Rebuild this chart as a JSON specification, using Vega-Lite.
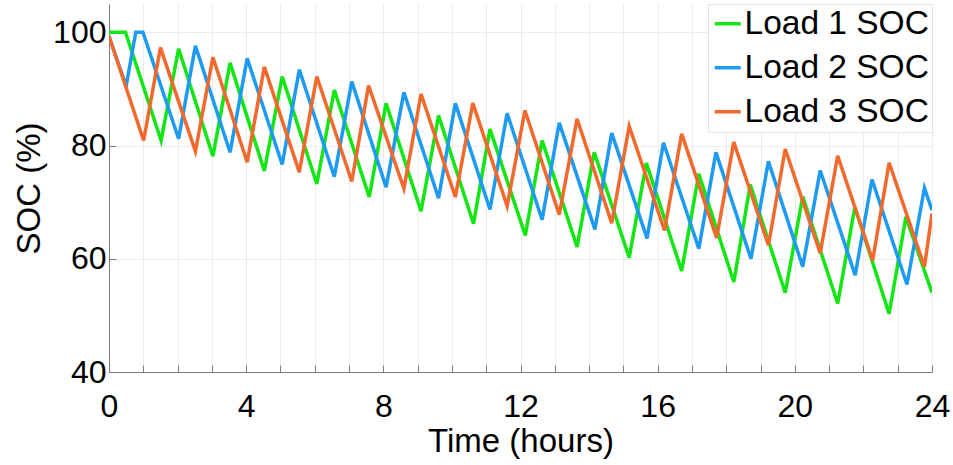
{
  "$schema": "https://vega.github.io/schema/vega-lite/v6.json",
  "width": 823,
  "height": 368,
  "autosize": {"type": "none"},
  "padding": {"left": 109, "top": 4, "right": 21, "bottom": 93},
  "background": "white",
  "config": {
    "view": {"stroke": null},
    "font": "Liberation Sans",
    "axis": {
      "labelFont": "Liberation Sans",
      "titleFont": "Liberation Sans",
      "labelColor": "#000000",
      "titleColor": "#000000",
      "labelFontSize": 32,
      "titleFontSize": 33,
      "titleFontWeight": "normal",
      "domainColor": "#7a7a7a",
      "domainWidth": 1,
      "tickColor": "#7a7a7a",
      "tickWidth": 1,
      "tickSize": -7,
      "gridColor": "#ececec",
      "gridWidth": 1
    },
    "legend": {
      "labelFont": "Liberation Sans",
      "labelFontSize": 33.5,
      "labelColor": "#000000",
      "labelLimit": 400
    }
  },
  "data": {
    "values": [
      {"t": 0, "soc": 100, "load": "Load 1 SOC"},
      {"t": 0.48, "soc": 100, "load": "Load 1 SOC"},
      {"t": 1.52, "soc": 80.9, "load": "Load 1 SOC"},
      {"t": 2.03, "soc": 97.1, "load": "Load 1 SOC"},
      {"t": 3.03, "soc": 78.1, "load": "Load 1 SOC"},
      {"t": 3.53, "soc": 94.6, "load": "Load 1 SOC"},
      {"t": 4.53, "soc": 75.5, "load": "Load 1 SOC"},
      {"t": 5.05, "soc": 92.2, "load": "Load 1 SOC"},
      {"t": 6.06, "soc": 73.2, "load": "Load 1 SOC"},
      {"t": 6.57, "soc": 89.8, "load": "Load 1 SOC"},
      {"t": 7.59, "soc": 70.9, "load": "Load 1 SOC"},
      {"t": 8.08, "soc": 87.45, "load": "Load 1 SOC"},
      {"t": 9.1, "soc": 68.4, "load": "Load 1 SOC"},
      {"t": 9.61, "soc": 85.3, "load": "Load 1 SOC"},
      {"t": 10.63, "soc": 66.2, "load": "Load 1 SOC"},
      {"t": 11.11, "soc": 82.9, "load": "Load 1 SOC"},
      {"t": 12.14, "soc": 64.1, "load": "Load 1 SOC"},
      {"t": 12.63, "soc": 80.9, "load": "Load 1 SOC"},
      {"t": 13.65, "soc": 62.1, "load": "Load 1 SOC"},
      {"t": 14.15, "soc": 78.8, "load": "Load 1 SOC"},
      {"t": 15.17, "soc": 60.2, "load": "Load 1 SOC"},
      {"t": 15.67, "soc": 76.9, "load": "Load 1 SOC"},
      {"t": 16.7, "soc": 57.85, "load": "Load 1 SOC"},
      {"t": 17.2, "soc": 75.0, "load": "Load 1 SOC"},
      {"t": 18.22, "soc": 55.9, "load": "Load 1 SOC"},
      {"t": 18.7, "soc": 73.1, "load": "Load 1 SOC"},
      {"t": 19.72, "soc": 54.0, "load": "Load 1 SOC"},
      {"t": 20.23, "soc": 71.0, "load": "Load 1 SOC"},
      {"t": 21.25, "soc": 52.1, "load": "Load 1 SOC"},
      {"t": 21.75, "soc": 69.1, "load": "Load 1 SOC"},
      {"t": 22.75, "soc": 50.3, "load": "Load 1 SOC"},
      {"t": 23.24, "soc": 67.4, "load": "Load 1 SOC"},
      {"t": 24, "soc": 54.0, "load": "Load 1 SOC"},

      {"t": 0, "soc": 99.3, "load": "Load 2 SOC"},
      {"t": 0.5, "soc": 90.5, "load": "Load 2 SOC"},
      {"t": 0.78, "soc": 100, "load": "Load 2 SOC"},
      {"t": 0.99, "soc": 100, "load": "Load 2 SOC"},
      {"t": 2.03, "soc": 81.2, "load": "Load 2 SOC"},
      {"t": 2.52, "soc": 97.6, "load": "Load 2 SOC"},
      {"t": 3.53, "soc": 78.8, "load": "Load 2 SOC"},
      {"t": 4.03, "soc": 95.4, "load": "Load 2 SOC"},
      {"t": 5.05, "soc": 76.65, "load": "Load 2 SOC"},
      {"t": 5.55, "soc": 93.4, "load": "Load 2 SOC"},
      {"t": 6.57, "soc": 74.5, "load": "Load 2 SOC"},
      {"t": 7.08, "soc": 91.3, "load": "Load 2 SOC"},
      {"t": 8.08, "soc": 72.65, "load": "Load 2 SOC"},
      {"t": 8.6, "soc": 89.4, "load": "Load 2 SOC"},
      {"t": 9.61, "soc": 70.7, "load": "Load 2 SOC"},
      {"t": 10.1, "soc": 87.45, "load": "Load 2 SOC"},
      {"t": 11.11, "soc": 68.7, "load": "Load 2 SOC"},
      {"t": 11.61, "soc": 85.7, "load": "Load 2 SOC"},
      {"t": 12.63, "soc": 66.9, "load": "Load 2 SOC"},
      {"t": 13.13, "soc": 84.0, "load": "Load 2 SOC"},
      {"t": 14.17, "soc": 65.2, "load": "Load 2 SOC"},
      {"t": 14.66, "soc": 82.2, "load": "Load 2 SOC"},
      {"t": 15.69, "soc": 63.6, "load": "Load 2 SOC"},
      {"t": 16.17, "soc": 80.5, "load": "Load 2 SOC"},
      {"t": 17.2, "soc": 61.8, "load": "Load 2 SOC"},
      {"t": 17.7, "soc": 78.8, "load": "Load 2 SOC"},
      {"t": 18.72, "soc": 60.0, "load": "Load 2 SOC"},
      {"t": 19.23, "soc": 77.2, "load": "Load 2 SOC"},
      {"t": 20.23, "soc": 58.6, "load": "Load 2 SOC"},
      {"t": 20.74, "soc": 75.6, "load": "Load 2 SOC"},
      {"t": 21.76, "soc": 57.1, "load": "Load 2 SOC"},
      {"t": 22.25, "soc": 74.0, "load": "Load 2 SOC"},
      {"t": 23.27, "soc": 55.45, "load": "Load 2 SOC"},
      {"t": 23.78, "soc": 72.5, "load": "Load 2 SOC"},
      {"t": 24, "soc": 68.6, "load": "Load 2 SOC"},

      {"t": 0, "soc": 99.3, "load": "Load 3 SOC"},
      {"t": 1.01, "soc": 80.9, "load": "Load 3 SOC"},
      {"t": 1.5, "soc": 97.3, "load": "Load 3 SOC"},
      {"t": 2.52, "soc": 79.0, "load": "Load 3 SOC"},
      {"t": 3.03, "soc": 95.6, "load": "Load 3 SOC"},
      {"t": 4.03, "soc": 77.05, "load": "Load 3 SOC"},
      {"t": 4.53, "soc": 93.9, "load": "Load 3 SOC"},
      {"t": 5.55, "soc": 75.3, "load": "Load 3 SOC"},
      {"t": 6.06, "soc": 92.2, "load": "Load 3 SOC"},
      {"t": 7.08, "soc": 73.65, "load": "Load 3 SOC"},
      {"t": 7.57, "soc": 90.6, "load": "Load 3 SOC"},
      {"t": 8.6, "soc": 72.4, "load": "Load 3 SOC"},
      {"t": 9.1, "soc": 89.1, "load": "Load 3 SOC"},
      {"t": 10.1, "soc": 70.9, "load": "Load 3 SOC"},
      {"t": 10.61, "soc": 87.5, "load": "Load 3 SOC"},
      {"t": 11.61, "soc": 69.3, "load": "Load 3 SOC"},
      {"t": 12.13, "soc": 86.2, "load": "Load 3 SOC"},
      {"t": 13.13, "soc": 67.8, "load": "Load 3 SOC"},
      {"t": 13.65, "soc": 84.7, "load": "Load 3 SOC"},
      {"t": 14.66, "soc": 66.3, "load": "Load 3 SOC"},
      {"t": 15.17, "soc": 83.4, "load": "Load 3 SOC"},
      {"t": 16.2, "soc": 65.0, "load": "Load 3 SOC"},
      {"t": 16.7, "soc": 82.06, "load": "Load 3 SOC"},
      {"t": 17.72, "soc": 63.7, "load": "Load 3 SOC"},
      {"t": 18.22, "soc": 80.6, "load": "Load 3 SOC"},
      {"t": 19.23, "soc": 62.4, "load": "Load 3 SOC"},
      {"t": 19.72, "soc": 79.4, "load": "Load 3 SOC"},
      {"t": 20.74, "soc": 61.0, "load": "Load 3 SOC"},
      {"t": 21.25, "soc": 78.2, "load": "Load 3 SOC"},
      {"t": 22.27, "soc": 59.7, "load": "Load 3 SOC"},
      {"t": 22.75, "soc": 76.95, "load": "Load 3 SOC"},
      {"t": 23.78, "soc": 58.6, "load": "Load 3 SOC"},
      {"t": 24, "soc": 68.0, "load": "Load 3 SOC"}
    ]
  },
  "mark": {"type": "line", "strokeWidth": 3.5, "clip": true},
  "encoding": {
    "x": {
      "field": "t",
      "type": "quantitative",
      "scale": {"domain": [0, 24], "nice": false, "zero": false},
      "axis": {
        "title": "Time (hours)",
        "values": [0, 1, 2, 3, 4, 5, 6, 7, 8, 9, 10, 11, 12, 13, 14, 15, 16, 17, 18, 19, 20, 21, 22, 23, 24],
        "labelExpr": "datum.value % 4 === 0 ? datum.label : ''",
        "labelPadding": 26,
        "titlePadding": 3,
        "labelFlush": false
      }
    },
    "y": {
      "field": "soc",
      "type": "quantitative",
      "scale": {"domain": [40, 105], "nice": false, "zero": false},
      "axis": {
        "title": "SOC (%)",
        "values": [40, 60, 80, 100],
        "labelPadding": 10,
        "titlePadding": 6
      }
    },
    "color": {
      "field": "load",
      "type": "nominal",
      "scale": {
        "domain": ["Load 1 SOC", "Load 2 SOC", "Load 3 SOC"],
        "range": ["#14e514", "#1e9bf0", "#f2692d"]
      },
      "legend": {
        "title": null,
        "orient": "top-right",
        "offset": 0,
        "symbolType": "stroke",
        "symbolSize": 676,
        "symbolStrokeWidth": 3.5,
        "labelOffset": 0,
        "rowPadding": 9,
        "padding": 3,
        "strokeColor": "#e3e3e3",
        "fillColor": "#ffffff"
      }
    }
  }
}
